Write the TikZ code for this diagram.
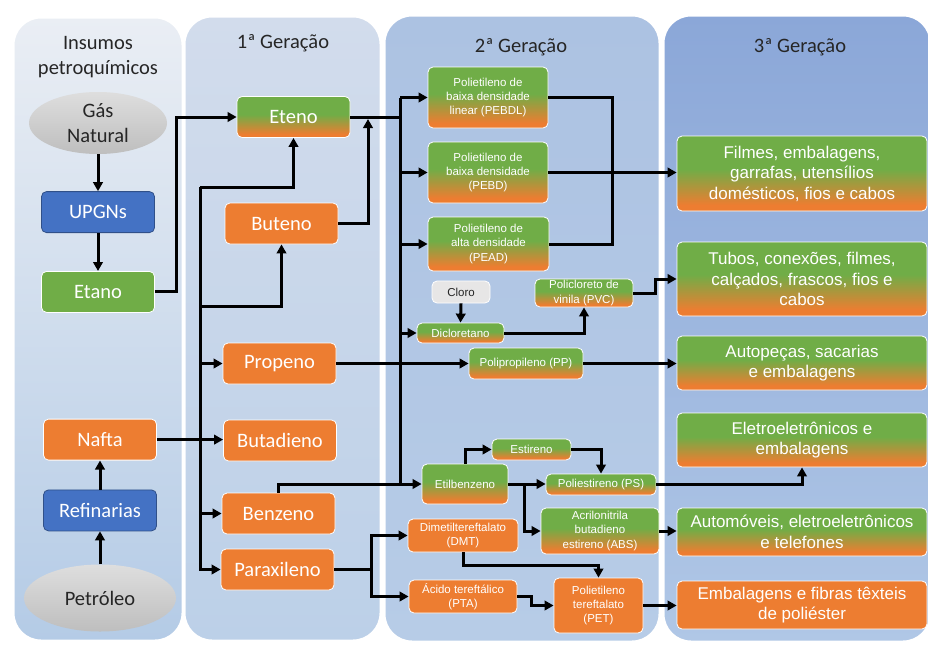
\documentclass[tikz,border=0pt]{standalone}
\usepackage{fontspec}
\setmainfont{Carlito}
\newfontfamily\arialfont{Liberation Sans}
\usetikzlibrary{positioning,arrows.meta,calc,shapes.geometric}
\definecolor{grn}{RGB}{112,173,71}
\definecolor{org}{RGB}{237,125,49}
\definecolor{blu}{RGB}{68,114,196}
\definecolor{ink}{RGB}{38,38,38}
\definecolor{ltgray}{RGB}{222,222,222}
\definecolor{dkgray}{RGB}{190,190,190}
\definecolor{clgray}{RGB}{231,230,230}
\definecolor{ponetop}{RGB}{234,238,244}
\definecolor{ponebot}{RGB}{180,203,230}
\definecolor{ptwotop}{RGB}{210,220,236}
\definecolor{ptwobot}{RGB}{188,208,232}
\definecolor{pthreetop}{RGB}{172,194,226}
\definecolor{pthreebot}{RGB}{183,204,231}
\definecolor{pfourtop}{RGB}{139,167,216}
\definecolor{pfourbot}{RGB}{176,199,230}
\pgfdeclareverticalshading{greenorange}{100bp}{color(0bp)=(org); color(29bp)=(org); color(53bp)=(grn); color(100bp)=(grn)}
\tikzset{
  panel/.style={draw=white, line width=3pt, rounded corners=28pt},
  title/.style={font=\fontsize{20.5}{25}\selectfont, text=ink, align=center},
  box/.style={rectangle, rounded corners=5pt, draw=white, line width=0.8pt,
              text=white, align=center, inner sep=1pt},
  gen/.style={box, minimum width=113pt, minimum height=41pt, font=\fontsize{20.5}{24}\selectfont},
  prod/.style={box, font=\arialfont\fontsize{11.5}{14.2}\selectfont},
  enduse/.style={box, minimum width=250pt, font=\arialfont\fontsize{17}{20.5}\selectfont},
  orangefill/.style={fill=org},
  greenfill/.style={fill=grn},
  bluefill/.style={fill=blu, draw=blu!70!black},
  mixfill/.style={shading=greenorange},
  raw/.style={ellipse, inner sep=0pt, top color=ltgray, bottom color=dkgray, draw=none,
              font=\fontsize{20.5}{25}\selectfont, text=ink, align=center},
  conn/.style={-{Triangle[length=9pt,width=9.5pt]}, line width=3pt},
  wire/.style={line width=3pt}
}
\begin{document}
\begin{tikzpicture}[x=1pt, y=-1pt]
  \useasboundingbox (0,0) rectangle (928,648);
  \fill[white] (0,0) rectangle (928,648);
  % columns
  \draw[panel, top color=ponetop, bottom color=ponebot] (13,17) rectangle (183,641);
  \draw[panel, top color=ptwotop, bottom color=ptwobot] (184,16) rectangle (381,641);
  \draw[panel, top color=pthreetop, bottom color=pthreebot] (384,15) rectangle (660,642);
  \draw[panel, top color=pfourtop, bottom color=pfourbot] (663,15) rectangle (931,642);
  \node[title] (tins) at (98,57.5) {Insumos\\petroquímicos};
  \node[title] (tone) at (283,43) {1ª Geração};
  \node[title] (ttwo) at (521,47) {2ª Geração};
  \node[title] (tthree) at (800,47) {3ª Geração};

  % insumos
  \node[raw, minimum width=138pt, minimum height=62pt] (gas) at (98,123) {Gás\\Natural};
  \node[gen, bluefill, below=37pt of gas] (upgns) {UPGNs};
  \node[gen, greenfill, below=38pt of upgns] (etano) {Etano};
  \node[raw, minimum width=152pt, minimum height=67pt] (petroleo) at (100,598) {Petróleo};
  \node[gen, bluefill, above=33pt of petroleo] (refinarias) {Refinarias};
  \node[gen, orangefill, above=29pt of refinarias] (nafta) {Nafta};

  % 1a geracao
  \node[gen, mixfill] (eteno) at (293.5,117) {Eteno};
  \node[gen, orangefill] (buteno) at (281.5,223.5) {Buteno};
  \node[gen, orangefill] (propeno) at (279.5,363.5) {Propeno};
  \node[gen, orangefill] (butadieno) at (280,440.5) {Butadieno};
  \node[gen, orangefill] (benzeno) at (278.5,513.5) {Benzeno};
  \node[gen, orangefill] (paraxileno) at (277.5,569.5) {Paraxileno};

  % 2a geracao
  \node[prod, mixfill, minimum width=120pt, minimum height=61pt] (pebdl) at (488,97.5) {Polietileno de\\baixa densidade\\linear (PEBDL)};
  \node[prod, mixfill, minimum width=120pt, minimum height=61pt] (pebd) at (488,172.5) {Polietileno de\\baixa densidade\\(PEBD)};
  \node[prod, mixfill, minimum width=121pt, minimum height=54pt] (pead) at (488.5,244) {Polietileno de\\alta densidade\\(PEAD)};
  \node[prod, fill=clgray, text=ink, minimum width=58pt, minimum height=22pt] (cloro) at (461,292) {Cloro};
  \node[prod, mixfill, minimum width=87pt, minimum height=20pt] (dicloro) at (460.5,333) {Dicloretano};
  \node[prod, mixfill, minimum width=98pt, minimum height=28pt] (pvc) at (584,293) {Policloreto de\\vinila (PVC)};
  \node[prod, mixfill, minimum width=114pt, minimum height=31pt] (pp) at (526,363.5) {Polipropileno (PP)};
  \node[prod, mixfill, minimum width=79pt, minimum height=21pt] (estireno) at (531.5,449.5) {Estireno};
  \node[prod, mixfill, minimum width=86pt, minimum height=40pt] (etilb) at (465,484) {Etilbenzeno};
  \node[prod, mixfill, minimum width=110pt, minimum height=21pt] (ps) at (601,484.5) {Poliestireno (PS)};
  \node[prod, mixfill, minimum width=118pt, minimum height=46pt] (abs) at (600,531) {Acrilonitrila\\butadieno\\estireno (ABS)};
  \node[prod, orangefill, minimum width=110pt, minimum height=33pt] (dmt) at (463,535.5) {Dimetiltereftalato\\(DMT)};
  \node[prod, orangefill, minimum width=108pt, minimum height=33pt] (pta) at (463,596.5) {Ácido tereftálico\\(PTA)};
  \node[prod, orangefill, minimum width=89pt, minimum height=55pt] (pet) at (598.5,605.5) {Polietileno\\tereftalato\\(PET)};

  % 3a geracao
  \node[enduse, mixfill, minimum height=75pt] (filmes) at (802,173.5) {Filmes, embalagens,\\garrafas, utensílios\\domésticos, fios e cabos};
  \node[enduse, mixfill, minimum height=74pt] (tubos) at (802,279) {Tubos, conexões, filmes,\\calçados, frascos, fios e\\cabos};
  \node[enduse, mixfill, minimum height=54pt] (autopecas) at (802,363) {Autopeças, sacarias\\e embalagens};
  \node[enduse, mixfill, minimum height=54pt] (eletro) at (802,440) {Eletroeletrônicos e\\embalagens};
  \node[enduse, mixfill, minimum height=48pt] (auto) at (802,532) {Automóveis, eletroeletrônicos\\e telefones};
  \node[enduse, orangefill, minimum height=48pt] (emb) at (802,605) {Embalagens e fibras têxteis\\de poliéster};

  % ligacoes insumos
  \draw[conn] (gas.south) -- (upgns.north);
  \draw[conn] (upgns.south) -- (etano.north);
  \draw[conn] (petroleo.north) -- (refinarias.south);
  \draw[conn] (refinarias.north) -- (nafta.south);
  \draw[conn] (etano.east) -- ++(22,0) |- (eteno.west);
  \draw[conn] (nafta.east) -- (nafta.east -| butadieno.west);

  % tronco da 1a geracao
  \coordinate (ta) at (200,187);
  \coordinate (tb) at (200,306);
  \draw[conn] (ta) -| (eteno.south);
  \draw[conn] (ta) |- (paraxileno.west);
  \draw[conn] (tb) -| (buteno.south);
  \draw[conn] (propeno.west -| ta) -- (propeno.west);
  \draw[conn] (benzeno.west -| ta) -- (benzeno.west);
  \coordinate (be) at (368,119);
  \draw[conn] (buteno.east) -| (be);

  % tronco da 2a geracao
  \coordinate (tc) at (400,97.5);
  \draw[wire] (eteno.east) -- (eteno.east -| tc);
  \draw[wire] (tc) -- (etilb.west -| tc);
  \draw[conn] (tc) -- (pebdl.west);
  \draw[conn] (pebd.west -| tc) -- (pebd.west);
  \draw[conn] (pead.west -| tc) -- (pead.west);
  \draw[conn] (dicloro.west -| tc) -- (dicloro.west);
  \draw[conn] (etilb.west -| tc) -- (etilb.west);
  \draw[wire] (benzeno.north) |- (etilb.west -| tc);
  \draw[conn] (propeno.east) -- (propeno.east -| pp.west);
  \coordinate (jp) at (371,569.5);
  \draw[wire] (paraxileno.east) -- (jp);
  \draw[conn] (jp) |- (dmt.west);
  \draw[conn] (jp) |- (pta.west);

  % produtos
  \coordinate (jpe) at (612,170);
  \draw[wire] (pebdl.east) -| (jpe) |- (pead.east);
  \draw[conn] (pebd.east) -- (pebd.east -| filmes.west);
  \draw[conn] (cloro.south) -- (dicloro.north);
  \draw[conn] (dicloro.east) -| (pvc.south);
  \draw[conn] (pvc.east) -- ++(22,0) |- (tubos.west);
  \draw[conn] (pp.east) -- (pp.east -| autopecas.west);
  \draw[conn] (etilb.north) |- (estireno.west);
  \draw[conn] (estireno.east) -| (ps.north);
  \draw[conn] (etilb.east) -- (etilb.east -| ps.west);
  \coordinate (je) at (524,484);
  \draw[conn] (je) |- (abs.west);
  \draw[conn] (ps.east) -| (eletro.south);
  \draw[conn] (abs.east) -- (abs.east -| auto.west);
  \draw[conn] (dmt.south) -- ++(0,13) -| (pet.north);
  \draw[conn] (pta.east) -- ++(14,0) |- (pet.west);
  \draw[conn] (pet.east) -- (pet.east -| emb.west);
\end{tikzpicture}
\end{document}
